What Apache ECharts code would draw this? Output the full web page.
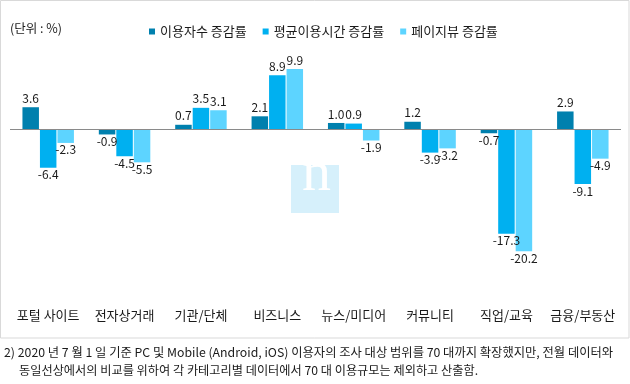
<!DOCTYPE html>
<html><head><meta charset="utf-8">
<script src="https://cdn.jsdelivr.net/npm/echarts@6/dist/echarts.min.js"></script>
<style>html,body{margin:0;padding:0;background:#fff;}#c{width:630px;height:384px;}</style>
</head><body><div id="c"></div>
<script>
const categories = ['포털 사이트','전자상거래','기관/단체','비즈니스','뉴스/미디어','커뮤니티','직업/교육','금융/부동산'];
const seriesNames = ['이용자수 증감률','평균이용시간 증감률','페이지뷰 증감률'];
const usersChange = [3.6,-0.9,0.7,2.1,1.0,1.2,-0.7,2.9];
const timeChange = [-6.4,-4.5,3.5,8.9,0.9,-3.9,-17.3,-9.1];
const pageviewChange = [-2.3,-5.5,3.1,9.9,-1.9,-3.2,-20.2,-4.9];
const unitText = '(단위 : %)';
const footLine1 = '2) 2020 년 7 월 1 일 기준 PC 및 Mobile (Android, iOS) 이용자의 조사 대상 범위를 70 대까지 확장했지만, 전월 데이터와';
const footLine2 = '동일선상에서의 비교를 위하여 각 카테고리별 데이터에서 70 대 이용규모는 제외하고 산출함.';

const colors = ['#0080ae','#00b0f0','#5dd4ff'];
const FONT = '"Noto Sans CJK KR", "Noto Sans", sans-serif';
const chart = echarts.init(document.getElementById('c'));

function mkSeries(name, data, idx){
  return {
    name, type:'bar', barWidth:16.5, barGap:'6%',
    itemStyle:{color:colors[idx]},
    data: data.map(v => ({
      value:v,
      label:{position: v>=0 ? 'top':'bottom', distance: v>=0 ? 3 : 1}
    })),
    label:{show:true, fontSize:12, color:'#1a1a1a', fontFamily:FONT,
      formatter:p=>Number(p.value).toFixed(1)},
    markLine: idx===0 ? {silent:true, symbol:'none', label:{show:false},
      lineStyle:{color:'#8a8a8a', width:1.2, type:'solid'},
      data:[{yAxis:0}]} : undefined,
    z:3
  };
}

chart.setOption({
  animation:false,
  textStyle:{fontFamily:FONT},
  grid:{left:10, right:9, top:68.5, height:236, containLabel:false},
  legend:{
    data:seriesNames, left:144, top:20, icon:'rect', itemWidth:6, itemHeight:6,
    itemGap:16, textStyle:{fontSize:13, color:'#1a1a1a', fontFamily:FONT}
  },
  xAxis:{type:'category', data:categories,
    axisLine:{show:false, onZero:false}, axisTick:{show:false},
    axisLabel:{fontSize:13, color:'#1a1a1a', margin:4, interval:0, fontFamily:FONT}},
  yAxis:{type:'value', min:-29, max:10, show:false, splitLine:{show:false}},
  series:[mkSeries(seriesNames[0],usersChange,0), mkSeries(seriesNames[1],timeChange,1), mkSeries(seriesNames[2],pageviewChange,2)],
  graphic:[
    {type:'rect', shape:{x:0.5,y:0.5,width:628.5,height:337.5}, style:{fill:'none', stroke:'#d9d9d9', lineWidth:1}, z:-10, silent:true},
    {type:'rect', shape:{x:291,y:165,width:48,height:48}, style:{fill:'#d6f0fb'}, z:-5, silent:true},
    {type:'text', x:316.5, y:204, style:{text:'n', fill:'#ffffff', font:'58px "Liberation Serif", serif', textAlign:'center', textVerticalAlign:'bottom'}, z:-4, silent:true},
    {type:'text', x:10, y:28, style:{text:unitText, fill:'#1a1a1a', font:'12.5px '+FONT, textVerticalAlign:'middle'}},
    {type:'text', x:4, y:352, style:{text:footLine1, fill:'#1a1a1a', font:'12.3px '+FONT, textVerticalAlign:'middle'}},
    {type:'text', x:19, y:370, style:{text:footLine2, fill:'#1a1a1a', font:'12.2px '+FONT, textVerticalAlign:'middle'}}
  ]
});
</script></body></html>
